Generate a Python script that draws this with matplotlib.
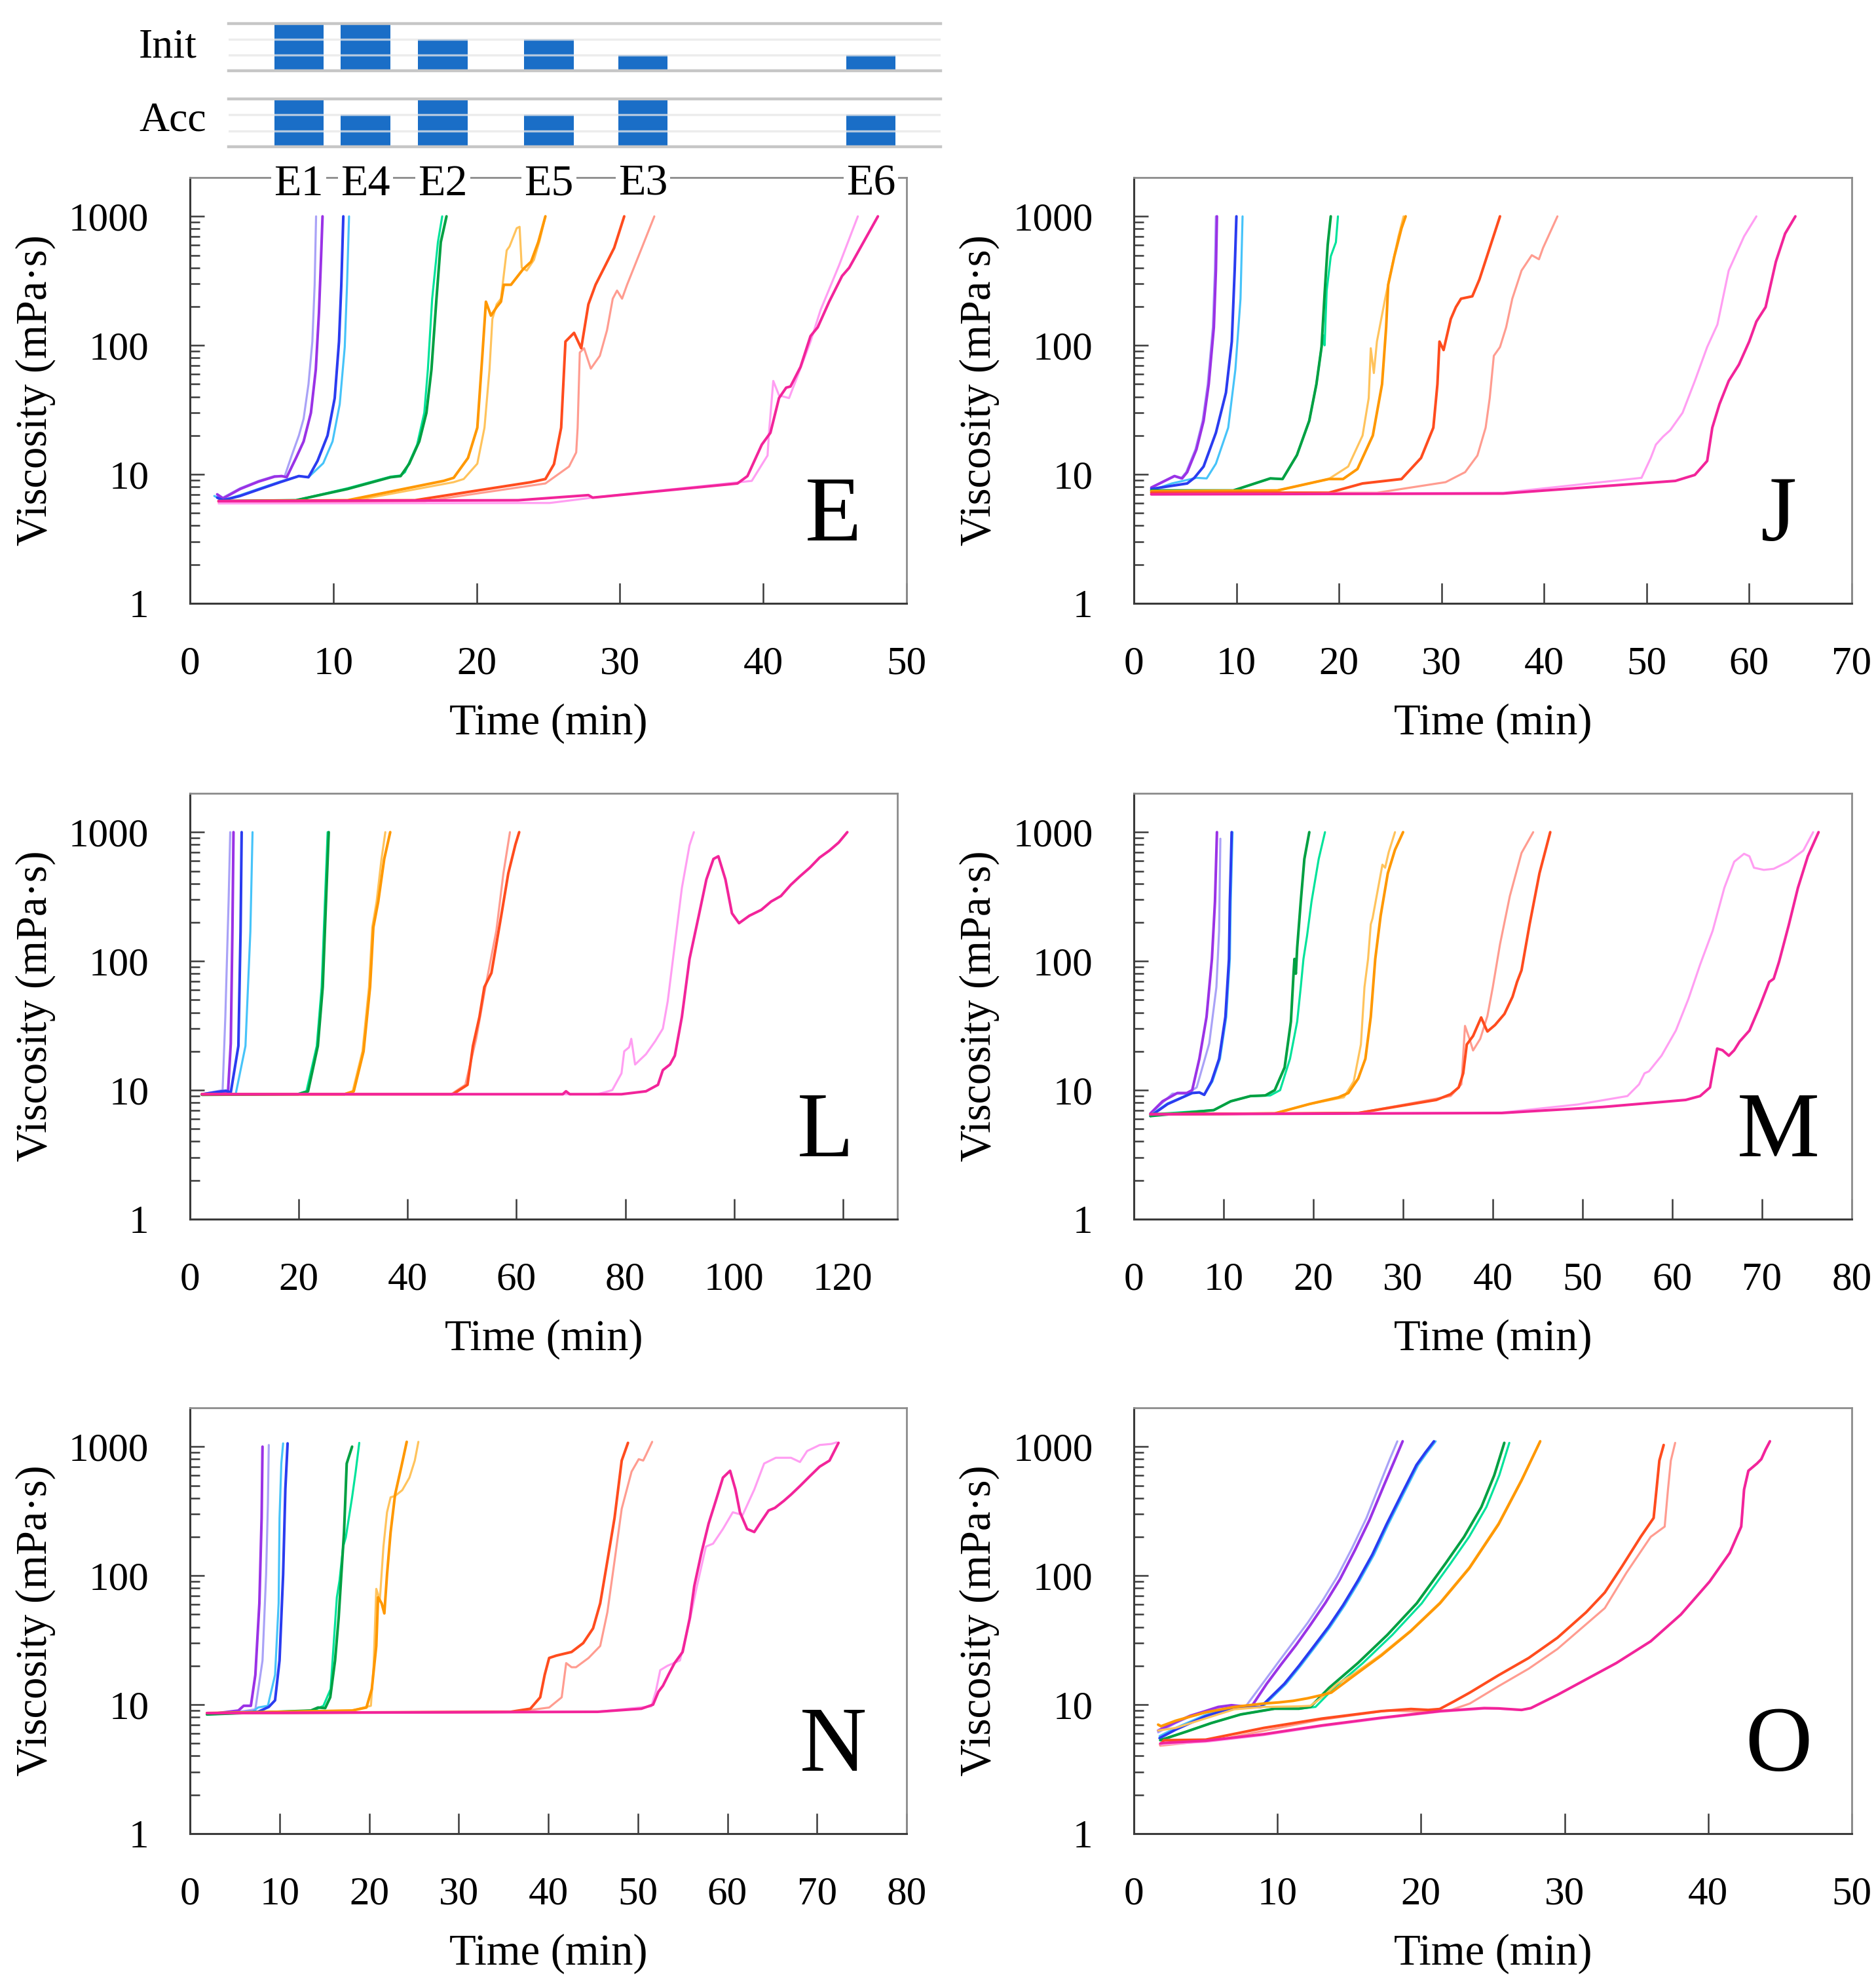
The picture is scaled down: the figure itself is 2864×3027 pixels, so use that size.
import matplotlib
matplotlib.use("Agg")
import matplotlib.pyplot as plt
import matplotlib.transforms as mtransforms
from matplotlib.ticker import FixedLocator, FuncFormatter, NullFormatter, NullLocator

plt.rcParams['font.family'] = ['Liberation Serif', 'DejaVu Serif']

# ---------------- top indicator chart ----------------
gel_labels = ['E1', 'E4', 'E2', 'E5', 'E3', 'E6']
gel_pos = [7.6, 12.25, 17.65, 25.05, 31.6, 47.5]      # in panel-E time units
init_level = [3, 3, 2, 2, 1, 1]
acc_level = [3, 2, 3, 2, 3, 2]

# ---------------- series / colours ----------------
SERIES = [('E1', 'pale'), ('E1', 'deep'), ('E4', 'pale'), ('E4', 'deep'),
          ('E2', 'pale'), ('E2', 'deep'), ('E5', 'pale'), ('E5', 'deep'),
          ('E3', 'pale'), ('E3', 'deep'), ('E6', 'pale'), ('E6', 'deep')]
COLORS = {('E1', 'pale'): '#A9A2F7', ('E1', 'deep'): '#9A32E6',
          ('E4', 'pale'): '#46C3F9', ('E4', 'deep'): '#2A3CF0',
          ('E2', 'pale'): '#00E39A', ('E2', 'deep'): '#00A042',
          ('E5', 'pale'): '#FFC35C', ('E5', 'deep'): '#FF9800',
          ('E3', 'pale'): '#FF9C90', ('E3', 'deep'): '#FF4C1E',
          ('E6', 'pale'): '#FF9EF2', ('E6', 'deep'): '#F2249A'}

# ---------------- Panel E ----------------
E_E1_pale_t = [1.9, 2.3, 3.5, 4.8, 5.9, 6.6, 7.1, 7.6, 7.93, 8.27, 8.54, 8.7, 8.8]
E_E1_pale_v = [7.0, 6.6, 7.8, 8.9, 9.7, 9.6, 14, 20, 27, 50, 107, 295, 1000]
E_E1_deep_t = [1.9, 2.3, 3.5, 4.8, 5.9, 6.4, 6.75, 7.4, 7.93, 8.44, 8.78, 9.0, 9.15, 9.25]
E_E1_deep_v = [7.0, 6.5, 7.7, 8.8, 9.6, 9.7, 9.5, 13.4, 18, 30, 65, 178, 490, 1000]
E_E4_pale_t = [1.7, 2.3, 3.5, 4.9, 6.3, 7.6, 8.27, 9.3, 9.95, 10.45, 10.8, 10.96, 11.1]
E_E4_pale_v = [6.8, 6.3, 6.9, 7.8, 8.8, 9.7, 9.5, 12.2, 18, 35, 97, 295, 1000]
E_E4_deep_t = [1.9, 2.3, 3.5, 4.9, 6.3, 7.6, 8.27, 8.9, 9.6, 10.1, 10.4, 10.56, 10.7]
E_E4_deep_v = [6.6, 6.3, 6.8, 7.7, 8.7, 9.7, 9.5, 12.7, 20, 39, 107, 295, 1000]
E_E2_pale_t = [2.0, 7.4, 11.0, 14.0, 14.7, 15.0, 15.85, 16.35, 16.6, 16.9, 17.3, 17.6]
E_E2_pale_v = [6.2, 6.3, 7.8, 9.6, 9.8, 10.4, 17, 30, 65, 230, 630, 1000]
E_E2_deep_t = [2.0, 7.4, 11.0, 14.0, 14.7, 15.3, 16.0, 16.5, 16.85, 17.2, 17.5, 17.9]
E_E2_deep_v = [6.2, 6.3, 7.7, 9.5, 9.7, 12.1, 18, 30, 65, 230, 630, 1000]
E_E5_pale_t = [2.0, 11.6, 18.4, 19.1, 20.05, 20.55, 20.9, 21.1, 21.4, 21.7, 22.1, 22.3, 22.8,
               23.0, 23.15, 23.5, 24.0, 24.4, 24.8]
E_E5_pale_v = [6.2, 6.3, 8.7, 9.2, 12.1, 23, 65, 160, 208, 230, 545, 585, 810,
               830, 400, 380, 460, 650, 1000]
E_E5_deep_t = [2.0, 11.0, 17.7, 18.4, 19.4, 20.05, 20.4, 20.65, 21.0, 21.4, 21.7, 21.9, 22.4,
               23.25, 23.8, 24.3, 24.8]
E_E5_deep_v = [6.2, 6.3, 8.9, 9.4, 13.4, 23, 83, 218, 170, 198, 218, 295, 295,
               390, 445, 630, 1000]
E_E3_pale_t = [2.0, 16.4, 24.8, 26.45, 26.95, 27.05, 27.2, 27.5, 27.97, 28.6, 29.1, 29.5, 29.8,
               30.15, 30.5, 31.5, 32.4]
E_E3_pale_v = [6.1, 6.2, 8.5, 11.5, 14.8, 23, 88, 95, 66, 83, 131, 230, 266,
               230, 295, 560, 1000]
E_E3_deep_t = [2.0, 15.7, 23.8, 24.8, 25.4, 25.9, 26.2, 26.8, 27.3, 27.8, 28.3, 29.0, 29.6, 30.3]
E_E3_deep_v = [6.2, 6.3, 8.7, 9.2, 12, 23, 107, 125, 95, 208, 295, 420, 570, 1000]
E_E6_pale_t = [2.0, 25.1, 28.1, 39.2, 40.3, 40.4, 40.7, 41.1, 41.8, 42.4, 43.3, 44.0, 45.3, 46.6]
E_E6_pale_v = [5.95, 6.0, 6.6, 8.9, 14, 21, 53, 41, 39, 58, 107, 188, 420, 1000]
E_E6_deep_t = [2.0, 22.9, 27.8, 28.1, 38.2, 38.9, 39.9, 40.5, 41.1, 41.6, 41.9, 42.6, 43.3,
               43.8, 44.6, 45.5, 46.0, 48.0]
E_E6_deep_v = [6.2, 6.3, 6.9, 6.6, 8.5, 9.7, 17, 21, 39, 47, 48, 68, 118,
               138, 218, 345, 400, 1000]

# ---------------- Panel J ----------------
J_E1_pale_t = [1.7, 3.9, 4.6, 5.1, 6.0, 6.7, 7.2, 7.7, 7.9, 8.0]
J_E1_pale_v = [7.9, 9.7, 9.3, 10.4, 15.6, 26, 50, 138, 380, 1000]
J_E1_deep_t = [1.7, 3.97, 4.7, 5.2, 6.1, 6.8, 7.3, 7.8, 8.0, 8.1]
J_E1_deep_v = [7.9, 9.7, 9.3, 10.4, 15.6, 26, 50, 138, 380, 1000]
J_E4_pale_t = [1.7, 3.7, 6.1, 7.1, 8.0, 9.2, 9.9, 10.4, 10.6]
J_E4_pale_v = [7.5, 8.5, 9.4, 9.3, 12.1, 23, 65, 230, 1000]
J_E4_deep_t = [1.7, 5.2, 5.9, 6.8, 8.0, 8.98, 9.55, 9.83, 10.0]
J_E4_deep_v = [7.7, 8.5, 9.4, 11.5, 21, 43, 107, 380, 1000]
J_E2_pale_t = [1.7, 9.7, 13.3, 14.5, 15.9, 17.1, 17.8, 18.3, 18.45, 18.6, 18.8, 19.2, 19.7, 19.9]
J_E2_pale_v = [7.5, 7.5, 9.3, 9.2, 14.1, 26, 50, 97, 120, 100, 265, 490, 630, 1000]
J_E2_deep_t = [1.7, 9.7, 13.3, 14.5, 15.9, 17.1, 17.8, 18.3, 18.6, 18.9, 19.2]
J_E2_deep_v = [7.5, 7.5, 9.3, 9.2, 14.1, 26, 50, 97, 250, 600, 1000]
J_E5_pale_t = [1.7, 14.0, 19.0, 20.9, 22.3, 22.9, 23.1, 23.4, 23.7, 24.5, 25.2, 25.8, 26.3]
J_E5_pale_v = [7.4, 7.5, 9.2, 11.5, 20, 39, 95, 61, 107, 230, 420, 700, 1000]
J_E5_deep_t = [1.7, 14.0, 19.0, 20.4, 21.8, 23.3, 24.2, 24.6, 24.8, 25.4, 26.1, 26.5]
J_E5_deep_v = [7.4, 7.5, 9.2, 9.2, 11, 20, 50, 138, 295, 490, 810, 1000]
J_E3_pale_t = [1.7, 23.7, 30.4, 32.3, 33.5, 34.3, 34.7, 35.1, 35.7, 36.3, 36.9, 37.8, 38.8,
               39.5, 39.9, 41.3]
J_E3_pale_v = [7.2, 7.2, 8.7, 10.4, 14, 23, 39, 83, 97, 138, 230, 380, 500,
               465, 570, 1000]
J_E3_deep_t = [1.7, 19.0, 22.3, 26.1, 28.0, 29.2, 29.6, 29.8, 30.2, 30.9, 31.4, 31.9, 33.0,
               33.7, 34.7, 35.7]
J_E3_deep_v = [7.2, 7.2, 8.5, 9.2, 13.4, 23, 50, 107, 92, 160, 198, 230, 240,
               325, 570, 1000]
J_E6_pale_t = [1.7, 36.0, 49.5, 50.4, 50.9, 51.6, 52.3, 53.5, 54.7, 55.9, 56.9, 58.0, 59.5, 60.7]
J_E6_pale_v = [7.0, 7.2, 9.4, 13.4, 17, 19.6, 22, 30, 53, 97, 145, 380, 700, 1000]
J_E6_deep_t = [1.7, 36.0, 52.8, 54.7, 55.9, 56.4, 57.1, 58.0, 59.0, 60.0, 60.7, 61.6, 62.6,
               63.5, 64.5]
J_E6_deep_v = [7.0, 7.1, 8.9, 9.9, 12.7, 23, 35, 53, 71, 107, 153, 198, 445,
               735, 1000]

# ---------------- Panel L ----------------
L_E1_pale_t = [2.2, 4.9, 6.0, 6.5, 7.1, 7.4]
L_E1_pale_v = [9.3, 9.8, 10, 37, 290, 1000]
L_E1_deep_t = [2.2, 6.0, 7.0, 7.5, 7.8, 8.0]
L_E1_deep_v = [9.3, 9.5, 9.8, 23, 170, 1000]
L_E4_pale_t = [2.2, 8.4, 10.2, 11.1, 11.5]
L_E4_pale_v = [9.2, 9.3, 22, 170, 1000]
L_E4_deep_t = [2.2, 6.6, 7.5, 8.9, 9.3, 9.5]
L_E4_deep_v = [9.3, 9.9, 9.6, 22, 170, 1000]
L_E2_pale_t = [2.2, 19.6, 21.4, 23.3, 24.2, 24.8, 25.3]
L_E2_pale_v = [9.2, 9.3, 9.8, 22, 63, 290, 1000]
L_E2_deep_t = [2.2, 19.9, 21.7, 23.5, 24.4, 25.0, 25.5]
L_E2_deep_v = [9.2, 9.3, 9.8, 22, 63, 290, 1000]
L_E5_pale_t = [2.2, 28.2, 29.9, 31.7, 32.9, 33.5, 34.3, 35.2, 35.9]
L_E5_pale_v = [9.3, 9.3, 9.8, 20, 63, 183, 290, 620, 1000]
L_E5_deep_t = [2.2, 28.4, 30.1, 31.9, 33.1, 33.7, 34.6, 35.7, 36.8]
L_E5_deep_v = [9.3, 9.3, 9.8, 20, 63, 183, 290, 620, 1000]
L_E3_pale_t = [2.2, 48.0, 50.6, 52.6, 54.3, 56.3, 57.6, 58.8]
L_E3_pale_v = [9.3, 9.3, 11, 25, 63, 172, 480, 1000]
L_E3_deep_t = [2.2, 48.3, 51.0, 52.0, 53.2, 54.1, 55.4, 57.2, 58.5, 59.8, 60.5]
L_E3_deep_v = [9.3, 9.3, 11, 22, 37, 63, 81, 225, 480, 800, 1000]
L_E6_pale_t = [2.2, 74.9, 77.6, 79.3, 79.8, 80.7, 81.1, 81.8, 83.8, 85.5, 86.9, 87.8, 89.1,
               90.4, 91.8, 92.6]
L_E6_pale_v = [9.3, 9.3, 10, 13.5, 20, 21.5, 25, 15.8, 19, 24, 30, 49, 135,
               370, 790, 1000]
L_E6_deep_t = [2.2, 68.5, 69.1, 69.8, 79.3, 83.8, 86.0, 86.9, 88.2, 89.1, 90.4, 91.8, 93.5,
               94.9, 96.2, 97.1, 98.4, 99.6, 100.9, 102.8, 105.0, 106.8, 108.6, 110.4,
               112.1, 113.9, 115.7, 117.5, 119.2, 120.8]
L_E6_deep_v = [9.3, 9.3, 9.8, 9.3, 9.3, 9.8, 11, 14.3, 15.8, 18.5, 37, 104, 225,
               430, 620, 650, 430, 235, 197, 225, 250, 290, 320, 390,
               455, 530, 635, 720, 830, 1000]

# ---------------- Panel M ----------------
M_E1_pale_t = [1.85, 3.2, 4.3, 5.9, 7.0, 8.4, 9.2, 9.5, 9.64]
M_E1_pale_v = [6.6, 8.0, 9.4, 9.4, 10.5, 23, 63, 172, 890]
M_E1_deep_t = [1.85, 3.2, 4.85, 5.9, 6.5, 7.3, 8.1, 8.7, 9.04, 9.26]
M_E1_deep_v = [6.6, 8.2, 9.5, 9.5, 10, 17.5, 37, 104, 290, 1000]
M_E4_pale_t = [1.85, 3.76, 6.5, 7.3, 7.84, 8.76, 9.6, 10.3, 10.7, 10.8, 11.0]
M_E4_pale_v = [6.4, 7.9, 9.5, 9.6, 9.2, 11.7, 17.5, 37, 104, 290, 1000]
M_E4_deep_t = [1.85, 3.76, 6.5, 7.3, 7.84, 8.66, 9.5, 10.2, 10.6, 10.7, 10.9]
M_E4_deep_v = [6.3, 7.8, 9.5, 9.6, 9.2, 11.7, 17.5, 37, 104, 290, 1000]
M_E2_pale_t = [1.85, 8.9, 10.8, 13.0, 15.2, 16.3, 17.4, 18.2, 18.6, 18.9, 19.3, 19.8, 20.6, 21.3]
M_E2_pale_v = [6.5, 7.0, 8.2, 9.0, 9.1, 10, 17.5, 34, 63, 104, 157, 290, 620, 1000]
M_E2_deep_t = [1.85, 8.9, 10.8, 13.0, 14.65, 15.7, 16.8, 17.5, 17.8, 17.9, 18.05, 18.2, 18.6,
               19.0, 19.55]
M_E2_deep_v = [6.3, 7.0, 8.2, 9.0, 9.1, 10, 15, 34, 81, 104, 80, 127, 290,
               620, 1000]
M_E5_pale_t = [1.85, 15.7, 19.55, 23.4, 24.5, 25.3, 25.7, 26.1, 26.4, 26.6, 27.7, 28.0, 28.4, 29.1]
M_E5_pale_v = [6.5, 6.6, 7.8, 8.8, 11.7, 22.6, 63, 104, 193, 215, 560, 530, 700, 1000]
M_E5_deep_t = [1.85, 15.7, 19.55, 22.8, 23.9, 25.0, 25.8, 26.4, 26.9, 27.5, 28.3, 29.1, 30.0]
M_E5_deep_v = [6.5, 6.6, 7.8, 8.8, 9.5, 12.3, 17.5, 37, 104, 225, 480, 730, 1000]
M_E3_pale_t = [1.85, 25.0, 35.3, 36.5, 36.9, 37.4, 37.8, 38.6, 39.4, 40.0, 40.8, 41.9, 43.2, 44.5]
M_E3_pale_v = [6.5, 6.65, 9.0, 11.1, 31.5, 25, 20.3, 25, 37.6, 63, 135, 320, 690, 1000]
M_E3_deep_t = [1.85, 25.0, 33.7, 35.3, 36.2, 36.7, 37.1, 37.8, 38.7, 39.2, 39.4, 40.25, 41.3,
               42.2, 42.7, 43.2, 44.1, 45.2, 46.4]
M_E3_deep_v = [6.5, 6.65, 8.4, 9.3, 10.5, 13.5, 22.6, 26.3, 36.6, 30.5, 28.5, 32, 39,
               53, 69, 85, 193, 480, 1000]
M_E6_pale_t = [1.85, 41.0, 49.5, 55.0, 56.3, 56.9, 57.4, 58.8, 60.4, 61.8, 63.1, 64.5, 65.8,
               66.9, 68.0, 68.6, 69.1, 70.2, 71.3, 72.9, 74.6, 75.7]
M_E6_pale_v = [6.5, 6.7, 7.75, 9.0, 11.1, 13.5, 14, 18.5, 29, 51, 94, 172, 370,
               590, 680, 650, 530, 510, 520, 590, 720, 1000]
M_E6_deep_t = [1.85, 41.0, 52.2, 61.5, 63.1, 64.2, 64.6, 65.0, 65.6, 66.3, 66.9, 67.5, 68.6,
               69.7, 70.8, 71.3, 71.9, 73.0, 74.0, 75.1, 76.3]
M_E6_deep_v = [6.5, 6.65, 7.4, 8.4, 9.0, 10.5, 15, 21, 20.4, 18.5, 20.4, 23.8, 29,
               43.8, 69, 73, 99, 193, 370, 650, 1000]

# ---------------- Panel N ----------------
N_E1_pale_t = [1.9, 6.0, 7.3, 8.1, 8.5, 8.7, 8.8]
N_E1_pale_v = [8.5, 8.9, 9.2, 22, 102, 360, 1030]
N_E1_deep_t = [1.9, 5.4, 6.0, 6.8, 7.3, 7.75, 8.0, 8.1]
N_E1_deep_v = [8.4, 9.0, 9.8, 9.8, 17, 61, 280, 1000]
N_E4_pale_t = [1.9, 7.0, 7.6, 8.7, 9.5, 9.9, 10.0, 10.2, 10.4]
N_E4_pale_v = [8.5, 8.8, 9.5, 9.8, 17, 61, 280, 740, 1060]
N_E4_deep_t = [1.9, 7.6, 8.8, 9.5, 10.0, 10.4, 10.65, 10.9]
N_E4_deep_v = [8.5, 8.8, 9.6, 10.8, 22, 102, 470, 1060]
N_E2_pale_t = [1.9, 13.8, 14.9, 15.7, 16.4, 16.7, 17.1, 17.4, 18.1, 18.5, 18.9]
N_E2_pale_v = [8.4, 9.0, 9.8, 13.2, 68, 92, 168, 198, 405, 640, 1070]
N_E2_deep_t = [1.9, 13.5, 14.3, 15.1, 15.66, 16.2, 16.6, 16.9, 17.2, 17.5, 18.1]
N_E2_deep_v = [8.4, 9.0, 9.5, 9.4, 11.4, 22, 47, 102, 217, 740, 1000]
N_E5_pale_t = [1.9, 18.1, 20.2, 20.5, 20.8, 21.2, 21.6, 22.0, 22.4, 22.9, 23.7, 24.5, 25.1, 25.5]
N_E5_pale_v = [8.6, 9.0, 9.8, 20, 79, 65, 168, 310, 405, 415, 460, 575, 780, 1090]
N_E5_deep_t = [1.9, 18.1, 19.7, 20.3, 20.8, 21.0, 21.4, 21.7, 22.0, 22.4, 22.9, 23.6, 24.2]
N_E5_deep_v = [8.6, 9.0, 9.5, 13.2, 28.5, 68, 61, 51, 102, 217, 425, 700, 1090]
N_E3_pale_t = [1.9, 36.5, 40.1, 41.5, 42.0, 42.6, 43.1, 44.5, 45.8, 46.6, 47.4, 48.2, 49.3,
               50.1, 50.6, 50.9, 51.6]
N_E3_pale_v = [8.6, 8.8, 9.5, 11.4, 21, 19.5, 19.5, 23, 28.5, 52, 130, 330, 640,
               800, 780, 860, 1090]
N_E3_deep_t = [1.9, 35.8, 38.0, 39.1, 39.6, 40.1, 40.9, 42.6, 43.9, 45.0, 45.8, 46.6, 47.4,
               48.2, 48.9]
N_E3_deep_v = [8.6, 8.8, 9.3, 11.4, 17, 23, 24, 25.6, 30, 39, 61, 130, 280,
               780, 1070]
N_E6_pale_t = [1.9, 45.5, 51.5, 52.0, 52.5, 53.3, 54.7, 55.8, 56.6, 57.6, 58.4, 59.5, 60.6,
               61.7, 63.0, 64.1, 65.4, 67.1, 68.1, 68.9, 70.3, 71.6, 72.2]
N_E6_pale_v = [8.6, 8.8, 9.7, 12.6, 18.5, 20, 22, 45, 83, 168, 177, 230, 310,
               295, 465, 740, 820, 820, 760, 925, 1030, 1050, 1080]
N_E6_deep_t = [1.9, 45.5, 50.4, 51.7, 52.3, 52.8, 53.5, 54.1, 55.0, 55.8, 56.3, 57.1, 57.9,
               58.7, 59.5, 60.3, 60.9, 61.4, 62.2, 63.0, 63.8, 64.6, 65.3, 66.3, 67.1,
               68.1, 69.2, 70.3, 71.4, 72.4]
N_E6_deep_v = [8.6, 8.8, 9.3, 10, 12.6, 14, 17.5, 21, 25.6, 47, 83, 150, 253,
               380, 575, 650, 465, 310, 230, 218, 265, 320, 335, 380, 425,
               495, 590, 700, 780, 1070]

# ---------------- Panel O ----------------
O_E1_pale_t = [1.69, 2.91, 3.93, 4.96, 5.88, 6.8, 7.41, 7.82, 9.05, 10.07, 11.09, 12.1, 13.14,
               14.16, 15.18, 16.2, 17.23, 17.84, 18.35]
O_E1_pale_v = [6.1, 7.2, 8.1, 8.7, 9.5, 9.9, 9.7, 9.8, 15, 21.4, 30.4, 43, 64,
               98, 162, 280, 546, 807, 1100]
O_E1_deep_t = [1.69, 2.91, 3.93, 4.96, 5.88, 6.8, 7.6, 8.23, 9.25, 10.27, 11.3, 12.3, 13.34,
               14.36, 15.39, 16.41, 17.43, 18.15, 18.72]
O_E1_deep_v = [6.3, 7.3, 8.2, 8.9, 9.6, 9.9, 9.7, 9.8, 14.5, 20.6, 29, 41.6, 61.5,
               94, 157, 270, 505, 778, 1100]
O_E4_pale_t = [1.79, 2.91, 4.96, 6.8, 7.7, 8.96, 10.6, 11.62, 12.62, 13.67, 14.69, 15.71,
               16.72, 17.72, 18.78, 19.8, 20.42, 21.02]
O_E4_pale_v = [5.7, 6.6, 8.3, 9.5, 9.6, 9.6, 14.5, 20, 28, 40, 59, 91,
               145, 250, 430, 720, 900, 1100]
O_E4_deep_t = [1.79, 2.91, 4.96, 6.8, 7.6, 8.84, 10.48, 11.5, 12.5, 13.55, 14.57, 15.59,
               16.6, 17.6, 18.66, 19.68, 20.3, 20.9]
O_E4_deep_v = [5.5, 6.4, 8.1, 9.4, 9.5, 9.6, 14.5, 20, 28, 40, 59, 91,
               145, 250, 430, 720, 900, 1100]
O_E2_pale_t = [1.84, 3.7, 5.4, 7.45, 9.8, 11.5, 12.65, 13.95, 15.95, 18.0, 20.05, 22.05, 23.35,
               24.55, 25.45, 26.15]
O_E2_pale_v = [5.3, 6.2, 7.2, 8.4, 9.3, 9.3, 9.6, 13.5, 21, 34.7, 61, 124, 200,
               340, 600, 1070]
O_E2_deep_t = [1.84, 3.7, 5.4, 7.45, 9.8, 11.5, 12.3, 13.6, 15.6, 17.65, 19.7, 21.7, 23.0,
               24.2, 25.1, 25.8]
O_E2_deep_v = [5.3, 6.2, 7.2, 8.4, 9.3, 9.3, 9.6, 13.5, 21, 34.7, 61, 124, 200,
               340, 600, 1070]
O_E5_pale_t = [1.69, 2.91, 4.96, 7.0, 9.05, 11.5, 12.3, 13.14, 14.16, 15.18, 17.23, 19.27,
               21.32, 23.36, 25.4, 27.0, 28.3]
O_E5_pale_v = [6.3, 6.6, 7.8, 9.2, 9.6, 9.7, 9.8, 11.5, 14.5, 16.9, 24.5, 37.5,
               62, 116, 255, 555, 1100]
O_E5_deep_t = [1.69, 1.89, 2.91, 4.96, 7.0, 9.05, 10.07, 11.09, 12.1, 13.14, 13.75, 15.18,
               17.23, 19.27, 21.32, 23.36, 25.4, 27.0, 28.3]
O_E5_deep_v = [7.0, 6.8, 7.5, 8.7, 9.6, 10.2, 10.4, 10.7, 11.2, 11.9, 12.4, 16.3,
               24, 37, 61, 114, 250, 546, 1100]
O_E3_pale_t = [1.84, 6.1, 12.9, 17.65, 20.0, 22.1, 23.4, 25.4, 27.5, 29.5, 31.5, 32.8, 34.3,
               36.0, 36.97, 37.2, 37.4, 37.7]
O_E3_pale_v = [4.8, 5.4, 7.6, 9.0, 8.8, 9.1, 10.2, 13.9, 19, 27, 42, 56, 105,
               200, 240, 465, 780, 1070]
O_E3_deep_t = [1.84, 2.1, 5.0, 9.05, 13.1, 17.2, 19.3, 20.5, 21.3, 22.3, 23.4, 25.4, 27.5,
               29.5, 31.5, 32.8, 34.0, 35.3, 36.2, 36.4, 36.6, 36.9]
O_E3_deep_v = [4.9, 5.3, 5.35, 6.6, 7.8, 8.9, 9.25, 9.1, 9.25, 10.6, 12.4, 16.9, 23,
               33, 52, 74, 118, 200, 280, 465, 780, 1030]
O_E6_pale_t = [1.84, 2.1, 5.0, 9.05, 13.1, 17.2, 21.3, 24.4, 25.4, 27.0, 27.65, 29.5, 31.5,
               33.6, 36.0, 38.1, 40.1, 41.5, 42.3, 42.5, 42.8, 43.4, 43.7, 44.0, 44.3]
O_E6_pale_v = [4.9, 4.95, 5.15, 5.8, 6.8, 7.8, 8.8, 9.3, 9.3, 9.1, 9.4, 11.9, 15.7,
               21, 31, 50, 90, 150, 240, 465, 650, 740, 800, 950, 1100]
O_E6_deep_t = [1.84, 2.1, 5.0, 9.05, 13.1, 17.2, 21.3, 24.4, 25.4, 27.0, 27.65, 29.5, 31.5,
               33.6, 36.0, 38.1, 40.1, 41.5, 42.3, 42.5, 42.8, 43.4, 43.7, 44.0, 44.3]
O_E6_deep_v = [5.0, 5.05, 5.25, 5.9, 6.9, 7.9, 8.9, 9.4, 9.35, 9.1, 9.4, 11.9, 15.7,
               21, 31, 50, 90, 150, 240, 465, 650, 740, 800, 950, 1100]

# ---------------- axis values ----------------
y_major = [1, 10, 100, 1000]
y_minor = [m * d for d in (1, 10, 100) for m in range(2, 10)]

# ---------------- layout (pixels) ----------------
W, H, DPI = 2864, 3027, 100
fig = plt.figure(figsize=(W / DPI, H / DPI), dpi=DPI, facecolor='white')


def rect(x0, y0, x1, y1):
    return [x0 / W, 1 - y1 / H, (x1 - x0) / W, (y1 - y0) / H]


PANELS = [
    ('E', (290, 271, 1384, 921), 50, 10),
    ('J', (1731, 271, 2827, 921), 70, 10),
    ('L', (290, 1211, 1370, 1861), 130, 20),
    ('M', (1731, 1211, 2827, 1861), 80, 10),
    ('N', (290, 2149, 1384, 2799), 80, 10),
    ('O', (1731, 2149, 2827, 2799), 50, 10),
]

axes = {}
for name, box, xmax, step in PANELS:
    ax = fig.add_axes(rect(*box))
    axes[name] = ax
    ax.set_yscale('log')
    for s, shade in SERIES:
        t = globals()[f'{name}_{s}_{shade}_t']
        v = globals()[f'{name}_{s}_{shade}_v']
        ax.plot(t, v, color=COLORS[(s, shade)], lw=2.3 if shade == 'pale' else 2.9,
                solid_joinstyle='round', solid_capstyle='round', zorder=2)
    ax.set_xlim(0, xmax)
    ax.set_ylim(1, 2000)
    ax.xaxis.set_major_locator(FixedLocator(list(range(0, xmax + 1, step))))
    ax.xaxis.set_minor_locator(NullLocator())
    ax.xaxis.set_major_formatter(FuncFormatter(lambda x, p: f'{x:g}'))
    ax.yaxis.set_major_locator(FixedLocator(y_major))
    ax.yaxis.set_minor_locator(FixedLocator(y_minor))
    ax.yaxis.set_major_formatter(FuncFormatter(lambda x, p: f'{x:g}'))
    ax.yaxis.set_minor_formatter(NullFormatter())
    ax.tick_params(which='both', direction='in', color='#3a3a3a', width=1.8,
                   labelsize=44, labelcolor='black', top=False, right=False)
    ax.tick_params(axis='x', which='major', length=22, pad=47)
    ax.tick_params(axis='y', which='major', length=16, pad=45)
    ax.tick_params(axis='y', which='minor', length=11)
    for side in ('left', 'bottom'):
        ax.spines[side].set_color('#3a3a3a')
        ax.spines[side].set_linewidth(2.2)
    for side in ('top', 'right'):
        ax.spines[side].set_color('#8c8c8c')
        ax.spines[side].set_linewidth(2.0)
    wpx = box[2] - box[0]
    hpx = box[3] - box[1]
    ax.set_xlabel('Time (min)', fontsize=48, va='center')
    ax.xaxis.set_label_coords(0.5, -183 / hpx)
    ax.set_ylabel('Viscosity (mPa·s)', fontsize=48, va='center')
    ax.yaxis.set_label_coords(-236 / wpx, 0.5)
    ax.text(0.898, 0.148, name, transform=ax.transAxes, ha='center', va='baseline',
            fontsize=102, zorder=4)

# labels of the formulations on top of panel E
axE = axes['E']
trans = mtransforms.blended_transform_factory(axE.transData, axE.transAxes)
for lab, x in zip(gel_labels, gel_pos):
    axE.text(x, 0.984, lab, transform=trans, ha='center', va='center', fontsize=49,
             bbox=dict(boxstyle='square,pad=0.06', fc='white', ec='none'),
             zorder=5, clip_on=False)

# ---------------- top indicator bars ----------------
E_px0, E_px1 = 290, 1384
bar_px0, bar_px1 = 349, 1436
bar_xlim = ((bar_px0 - E_px0) * 50 / (E_px1 - E_px0), (bar_px1 - E_px0) * 50 / (E_px1 - E_px0))

for row, levels, (ytop, ybot), ybase in [('Init', init_level, (36, 108), 88),
                                          ('Acc', acc_level, (151, 224), 200)]:
    bx = fig.add_axes(rect(bar_px0, ytop, bar_px1, ybot))
    bx.set_xlim(*bar_xlim)
    bx.set_ylim(0, 3)
    bx.bar(gel_pos, levels, width=3.45, color='#1A6EC7', zorder=2)
    for lv in (1, 2):
        bx.axhline(lv, color='#E6E6E6', lw=2.4, alpha=0.75, zorder=3)
    for lv in (0, 3):
        bx.axhline(lv, color='#C6C6C6', lw=3.2, zorder=3, clip_on=False)
    bx.axis('off')
    fig.text(212 / W, 1 - ybase / H, row, ha='left', va='baseline', fontsize=46)

fig.savefig('out.png', dpi=DPI, facecolor='white')
